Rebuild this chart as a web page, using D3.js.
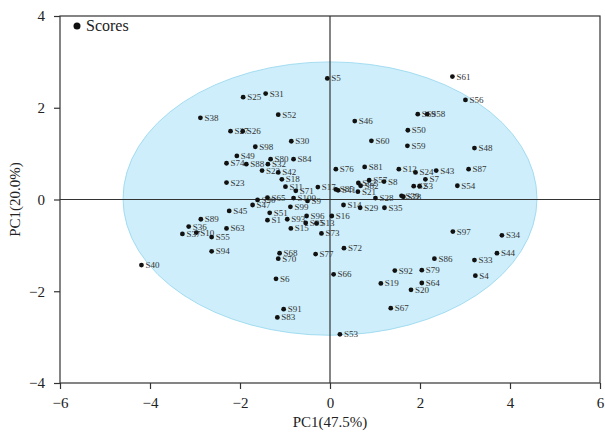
<!DOCTYPE html>
<html>
<head>
<meta charset="utf-8">
<script src="https://cdn.jsdelivr.net/npm/d3@7"></script>
<style>
  body { margin: 0; background: #fff; }
  text { font-family: "Liberation Serif", "DejaVu Serif", serif; }
</style>
</head>
<body>
<div id="chart"></div>
<script>
// Sample names and their scores on the two components.
const names = ["S1","S2","S3","S4","S5","S6","S7","S8","S9","S10",
  "S11","S12","S13","S14","S15","S16","S17","S18","S19","S20",
  "S21","S22","S23","S24","S25","S26","S27","S28","S29","S30",
  "S31","S32","S33","S34","S35","S36","S37","S38","S39","S40",
  "S41","S42","S43","S44","S45","S46","S47","S48","S49","S50",
  "S51","S52","S53","S54","S55","S56","S57","S58","S59","S60",
  "S61","S62","S63","S64","S65","S66","S67","S68","S69","S70",
  "S71","S72","S73","S74","S76","S77","S78","S79","S80",
  "S81","S82","S83","S84","S85","S86","S87","S88","S89","S90",
  "S91","S92","S93","S94","S95","S96","S97","S98","S99","S100"];
const pc1 = [-1.39,1.86,1.99,3.23,-0.06,-1.20,2.12,1.20,-0.50,-2.97,
  -0.99,1.53,-0.30,0.30,-0.87,0.04,-0.27,-1.07,1.13,1.80,
  0.62,-1.51,-2.30,1.90,-1.93,-1.94,-2.21,1.01,0.67,-0.86,
  -1.43,-1.38,3.21,3.82,1.21,-3.14,-3.28,-2.88,1.59,-4.19,
  0.18,-1.15,2.36,3.71,-2.24,0.55,-1.72,3.21,-2.07,1.73,
  -1.34,-1.15,0.22,2.83,-2.63,3.01,0.87,2.16,1.72,0.92,
  2.72,0.63,-2.30,2.04,-1.39,0.08,1.35,-1.12,1.95,-1.15,
  -0.76,0.31,-0.19,-2.30,0.13,-0.32,1.63,2.04,-1.32,
  0.77,0.68,-1.17,-0.81,0.13,2.32,3.08,-1.86,-2.87,-1.61,
  -1.03,1.44,-0.95,-2.63,-0.54,-0.52,2.73,-1.66,-0.88,-0.81];
const pc2 = [-0.45,0.29,0.29,-1.66,2.64,-1.73,0.44,0.39,-0.03,-0.72,
  0.28,0.66,-0.52,-0.12,-0.63,-0.36,0.27,0.44,-1.83,-1.97,
  0.17,0.63,0.37,0.59,2.23,1.49,1.49,0.03,-0.18,1.27,
  2.31,0.77,-1.32,-0.78,-0.18,-0.59,-0.75,1.78,0.08,-1.43,
  0.20,0.59,0.63,-1.17,-0.25,1.71,-0.12,1.12,0.95,1.51,
  -0.29,1.85,-2.94,0.30,-0.82,2.17,0.42,1.86,1.17,1.28,
  2.68,0.36,-0.63,-1.82,0.04,-1.63,-2.37,-1.17,1.86,-1.29,
  0.19,-1.06,-0.74,0.79,0.66,-1.19,0.06,-1.54,0.88,
  0.71,0.30,-2.57,0.88,0.22,-1.29,0.66,0.77,-0.43,-0.01,
  -2.39,-1.55,-0.43,-1.13,-0.51,-0.36,-0.70,1.15,-0.16,0.03];

const xTicks = [-6, -4, -2, 0, 2, 4, 6];
const yTicks = [-4, -2, 0, 2, 4];
const xTitle = "PC1(47.5%)";
const yTitle = "PC1(20.0%)";
const legendLabel = "Scores";
// confidence ellipse: centre and radii in score units
const ellipseCenter = [0, 0.02];
const ellipseRadii = [4.6, 2.98];

const width = 605;
const height = 435;
const marginTop = 16;
const marginRight = 5;
const marginBottom = 52;
const marginLeft = 60;

const points = names.map((n, i) => ({ name: n, x: pc1[i], y: pc2[i] }));

const x = d3.scaleLinear([-6, 6], [marginLeft, width - marginRight]);
const y = d3.scaleLinear([-4, 4], [height - marginBottom, marginTop]);

const svg = d3.create("svg").attr("width", width).attr("height", height);

// ellipse
svg.append("ellipse")
  .attr("cx", x(ellipseCenter[0]))
  .attr("cy", y(ellipseCenter[1]))
  .attr("rx", x(ellipseRadii[0]) - x(0))
  .attr("ry", y(0) - y(ellipseRadii[1]))
  .attr("fill", "#cdeefa")
  .attr("stroke", "#93d6ee")
  .attr("stroke-width", 0.8);

// zero lines
svg.append("line")
  .attr("x1", x(-6)).attr("x2", x(6))
  .attr("y1", y(0)).attr("y2", y(0))
  .attr("stroke", "#333").attr("stroke-width", 1.2);
svg.append("line")
  .attr("x1", x(0)).attr("x2", x(0))
  .attr("y1", y(-4)).attr("y2", y(4))
  .attr("stroke", "#333").attr("stroke-width", 1.2);

// frame
svg.append("rect")
  .attr("x", x(-6)).attr("y", y(4))
  .attr("width", x(6) - x(-6)).attr("height", y(-4) - y(4))
  .attr("fill", "none").attr("stroke", "#333").attr("stroke-width", 1.2);

// axes
svg.append("g")
  .attr("transform", `translate(0,${height - marginBottom})`)
  .call(d3.axisBottom(x).tickValues(xTicks).tickSize(6).tickPadding(8).tickFormat(d3.format("d")))
  .call((g) => g.select(".domain").remove())
  .call((g) => g.selectAll(".tick line").attr("stroke", "#333").attr("stroke-width", 1.2))
  .call((g) => g.selectAll(".tick text").attr("font-size", 15).attr("fill", "#222")
    .attr("font-family", "'Liberation Serif', serif").text((d) => d < 0 ? "\u2212" + Math.abs(d) : d));

svg.append("g")
  .attr("transform", `translate(${marginLeft},0)`)
  .call(d3.axisLeft(y).tickValues(yTicks).tickSize(6).tickPadding(9).tickFormat(d3.format("d")))
  .call((g) => g.select(".domain").remove())
  .call((g) => g.selectAll(".tick line").attr("stroke", "#333").attr("stroke-width", 1.2))
  .call((g) => g.selectAll(".tick text").attr("font-size", 15).attr("fill", "#222")
    .attr("font-family", "'Liberation Serif', serif").text((d) => d < 0 ? "\u2212" + Math.abs(d) : d));

// axis titles
svg.append("text")
  .attr("x", x(0)).attr("y", 427)
  .attr("text-anchor", "middle")
  .attr("font-size", 15).attr("fill", "#222")
  .text(xTitle);
svg.append("text")
  .attr("transform", `translate(20,${y(0)}) rotate(-90)`)
  .attr("text-anchor", "middle")
  .attr("font-size", 15).attr("fill", "#222")
  .text(yTitle);

// point labels first, dots on top
svg.append("g")
  .selectAll("text")
  .data(points)
  .join("text")
  .attr("x", (d) => x(d.x) + 4)
  .attr("y", (d) => y(d.y) + 3)
  .attr("font-size", 9)
  .attr("fill", "#333")
  .text((d) => d.name);

svg.append("g")
  .selectAll("circle")
  .data(points)
  .join("circle")
  .attr("cx", (d) => x(d.x))
  .attr("cy", (d) => y(d.y))
  .attr("r", 2.4)
  .attr("fill", "#111");

// legend
svg.append("circle").attr("cx", 77).attr("cy", 26).attr("r", 3.5).attr("fill", "#111");
svg.append("text")
  .attr("x", 86).attr("y", 31)
  .attr("font-size", 16).attr("fill", "#222")
  .text(legendLabel);

d3.select("#chart").node().appendChild(svg.node());
</script>
</body>
</html>
